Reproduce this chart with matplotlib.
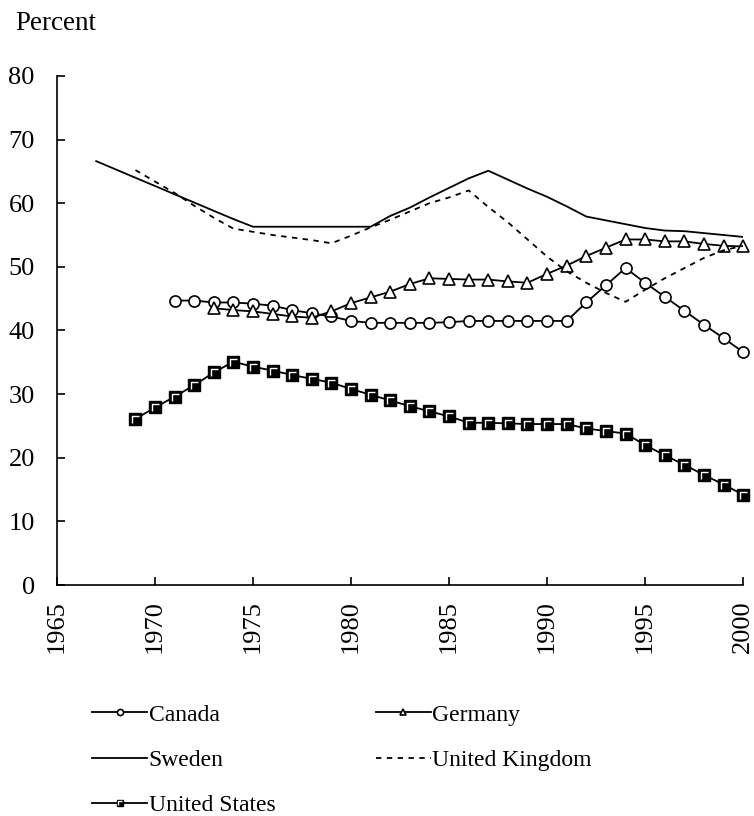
import matplotlib
matplotlib.use("Agg")
import matplotlib.pyplot as plt
from matplotlib.path import Path
from matplotlib.legend_handler import HandlerTuple

plt.rcParams['font.family'] = ['Liberation Serif', 'DejaVu Serif']

# Datos (porcentaje)
canada_years = list(range(1971, 2001))
canada = [44.7, 44.7, 44.4, 44.4, 44.2, 43.9, 43.2, 42.7, 42.2, 41.5,
          41.2, 41.2, 41.2, 41.2, 41.3, 41.5, 41.5, 41.5, 41.5, 41.5,
          41.5, 44.4, 47.1, 49.8, 47.5, 45.3, 43.1, 40.9, 38.8, 36.6]

germany_years = list(range(1973, 2001))
germany = [43.5, 43.2, 43.0, 42.6, 42.2, 42.0, 43.0, 44.3, 45.2, 46.1,
           47.3, 48.2, 48.1, 48.0, 48.0, 47.7, 47.5, 48.9, 50.2, 51.7,
           53.0, 54.3, 54.3, 54.0, 54.0, 53.6, 53.3, 53.2]

sweden_years = list(range(1967, 2001))
sweden = [66.6, 65.3, 64.0, 62.7, 61.4, 60.1, 58.8, 57.5, 56.3, 56.3,
          56.3, 56.3, 56.3, 56.3, 56.3, 58.0, 59.3, 60.9, 62.4, 63.9,
          65.1, 63.7, 62.3, 61.0, 59.5, 57.9, 57.3, 56.7, 56.1, 55.7,
          55.6, 55.3, 55.0, 54.7]

uk_years = list(range(1969, 2001))
uk = [65.2, 63.4, 61.6, 59.6, 57.7, 56.0, 55.5, 55.0, 54.6, 54.2,
      53.7, 54.9, 56.2, 57.4, 58.7, 60.0, 60.9, 62.0, 59.4, 57.0,
      54.3, 51.6, 49.3, 47.5, 45.9, 44.5, 46.4, 48.2, 49.8, 51.4,
      52.6, 53.3]

us_years = list(range(1969, 2001))
us = [26.1, 27.9, 29.6, 31.4, 33.4, 35.1, 34.3, 33.7, 33.0, 32.4,
      31.8, 30.8, 29.9, 29.0, 28.1, 27.3, 26.5, 25.5, 25.5, 25.4,
      25.3, 25.3, 25.3, 24.6, 24.2, 23.8, 22.0, 20.4, 18.9, 17.3,
      15.8, 14.2]

fig = plt.figure(figsize=(7.54, 8.16), dpi=100)
ax = fig.add_axes([0.0756, 0.283, 0.910, 0.624])

lw = 1.3
l_can, = ax.plot(canada_years, canada, color='black', lw=lw, marker='o', ms=8,
                 mfc='white', mec='black', mew=1.2, clip_on=False, label='Canada')
l_ger, = ax.plot(germany_years, germany, color='black', lw=lw, marker='^', ms=9,
                 mfc='white', mec='black', mew=1.2, clip_on=False, label='Germany')
l_swe, = ax.plot(sweden_years, sweden, color='black', lw=lw, label='Sweden')
l_uk, = ax.plot(uk_years, uk, color='black', lw=lw, linestyle=(0, (3, 3)),
                label='United Kingdom')
l_us, = ax.plot(us_years, us, color='black', lw=lw, marker='s', ms=8,
                mfc='black', mec='black', mew=1.0, clip_on=False, label='United States')
# marca blanca interior del cuadrado
gamma = Path([(-0.3, -0.35), (-0.3, 0.3), (0.35, 0.3)])
l_us2, = ax.plot(us_years, us, linestyle='none', marker=gamma, ms=5.6,
                 mfc='none', mec='white', mew=1.0, clip_on=False)

ax.set_xlim(1965, 2000)
ax.set_ylim(0, 80)
ax.set_xticks(range(1965, 2001, 5))
ax.set_yticks(range(0, 81, 10))
ax.spines['top'].set_visible(False)
ax.spines['right'].set_visible(False)
ax.spines['left'].set_linewidth(1.2)
ax.spines['bottom'].set_linewidth(1.2)
ax.tick_params(axis='y', direction='in', length=6, width=1.2, pad=16, labelsize=19)
ax.tick_params(axis='x', direction='in', length=6, width=1.2, pad=11, labelsize=19,
               labelrotation=90)

fig.text(0.02, 0.963, 'Percent', fontsize=19.5, va='baseline', ha='left')

handles = [l_can, l_swe, (l_us, l_us2), l_ger, l_uk]
labels = ['Canada', 'Sweden', 'United States', 'Germany', 'United Kingdom']
fig.legend(handles, labels, loc='upper left', bbox_to_anchor=(0.122, 0.137),
           ncol=2, frameon=False, fontsize=17, handlelength=2.35, handletextpad=0.05,
           columnspacing=4.25, labelspacing=1.0, borderpad=0, borderaxespad=0,
           markerscale=0.55, handler_map={tuple: HandlerTuple(ndivide=1, pad=0)})

fig.savefig('out.png', dpi=100)
